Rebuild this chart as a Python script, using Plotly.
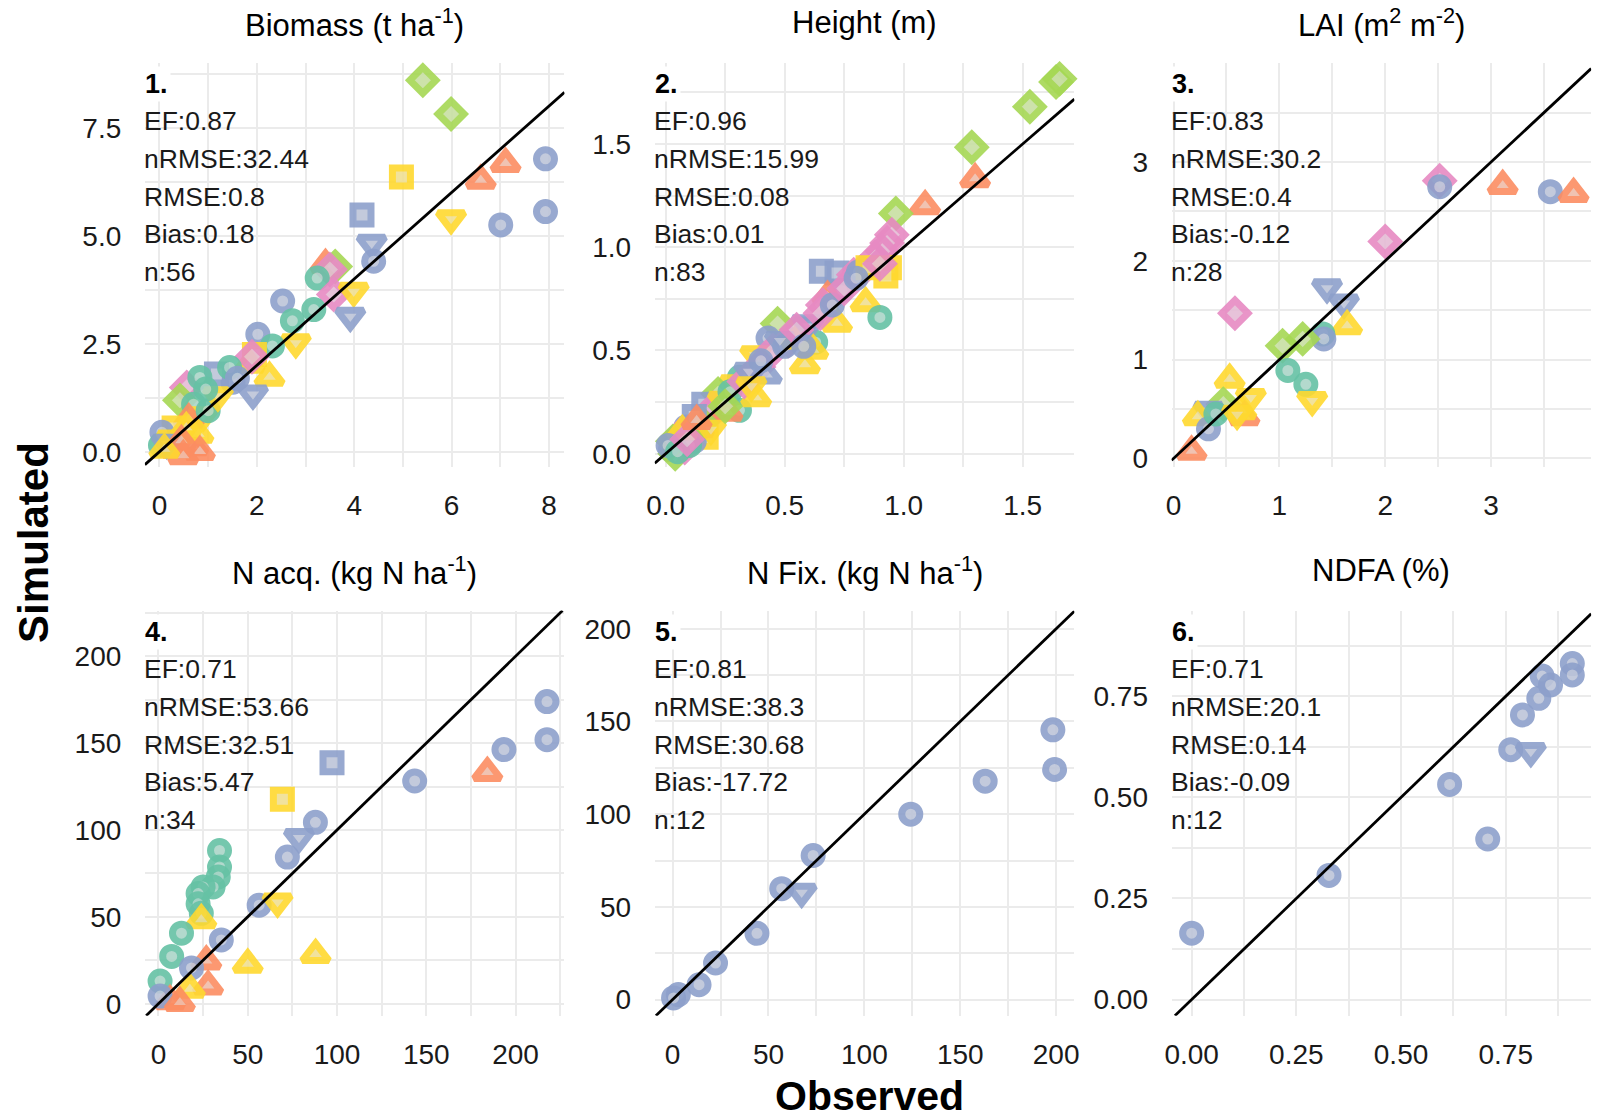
import plotly.graph_objects as go

W, H = 1615, 1118
FONT = "Liberation Sans"

# ---------------- colours / symbols ----------------
COLORS = {"T": "#66C2A5", "O": "#FC8D62", "B": "#8DA0CB",
          "P": "#E78AC3", "L": "#A6D854", "Y": "#FFD92F"}
SYMBOLS = {"o": "circle", "^": "triangle-up", "s": "square",
           "d": "diamond", "v": "triangle-down"}
SYMBOL_SIZE = {"o": 18, "^": 23, "s": 18, "d": 20, "v": 23}

# ---------------- panel titles & statistics ----------------
titles = ["Biomass (t ha<sup>-1</sup>)", "Height (m)", "LAI (m<sup>2</sup> m<sup>-2</sup>)",
          "N acq. (kg N ha<sup>-1</sup>)", "N Fix. (kg N ha<sup>-1</sup>)", "NDFA (%)"]
labels = ["1.", "2.", "3.", "4.", "5.", "6."]
stats = [
    ["EF:0.87", "nRMSE:32.44", "RMSE:0.8", "Bias:0.18", "n:56"],
    ["EF:0.96", "nRMSE:15.99", "RMSE:0.08", "Bias:0.01", "n:83"],
    ["EF:0.83", "nRMSE:30.2", "RMSE:0.4", "Bias:-0.12", "n:28"],
    ["EF:0.71", "nRMSE:53.66", "RMSE:32.51", "Bias:5.47", "n:34"],
    ["EF:0.81", "nRMSE:38.3", "RMSE:30.68", "Bias:-17.72", "n:12"],
    ["EF:0.71", "nRMSE:20.1", "RMSE:0.14", "Bias:-0.09", "n:12"],
]

# ---------------- data: observed, simulated, colour group, shape ----------------
biomass_obs = [5.41, 5.99, 4.97, 7.11, 6.60, 7.93, 7.93, 7.01, 5.99, 4.16,
               4.36, 4.40, 3.41, 3.61, 3.50, 3.24, 3.58, 3.99, 3.92, 2.53,
               3.17, 2.73, 2.80, 2.02, 2.32, 2.26, 1.95, 1.85, 1.90, 1.92,
               1.51, 1.17, 1.44, 0.56, 0.83, 0.42, 0.70, 0.90, 0.60, 0.30,
               0.05, 0.02, 0.69, 0.35, 0.80, 0.25, 0.55, 0.15, 0.45, 1.00,
               0.83, 0.49, 0.10, 1.20, 0.95, 1.60]
biomass_sim = [8.60, 7.82, 6.36, 6.67, 6.28, 6.78, 5.56, 5.25, 5.40, 5.48,
               4.83, 4.41, 4.33, 4.29, 4.22, 4.02, 3.64, 3.72, 3.14, 3.49,
               3.29, 3.03, 2.53, 2.72, 2.45, 1.72, 2.25, 2.02, 2.20, 1.34,
               1.61, 1.80, 1.95, 1.49, 1.72, 1.19, 1.10, 0.84, 0.75, 0.55,
               0.45, 0.15, 0.11, 0.05, 0.40, 0.30, 0.55, 0.20, 0.25, 0.95,
               0.00, -0.10, 0.05, 1.30, 1.45, 1.70]
biomass_grp = ("L L Y O O B B B Y B "
               "B B O L P T P Y B B "
               "T T Y B T Y Y Y P B "
               "B B T P T L T Y O Y "
               "B T O O Y Y Y B O T "
               "O O Y Y T B").split()
biomass_shp = ("d d s ^ ^ o o o v s "
               "v o ^ d d o d v v o "
               "o o v o o ^ s ^ d v "
               "o s o d o d o v ^ s "
               "o o ^ ^ ^ v ^ v ^ o "
               "^ ^ ^ v o o").split()

height_obs = [1.64, 1.655, 1.53, 1.286, 1.30, 1.09, 0.967, 0.95, 0.93, 0.91,
              0.88, 0.94, 0.925, 0.654, 0.72, 0.79, 0.82, 0.81, 0.74, 0.68,
              0.66, 0.84, 0.90, 0.59, 0.72, 0.47, 0.43, 0.63, 0.515, 0.585,
              0.376, 0.39, 0.425, 0.31, 0.29, 0.31, 0.38, 0.22, 0.16, 0.18,
              0.17, 0.085, 0.02, 0.04, 0.05, 0.08, 0.10, 0.12, 0.06, 0.14,
              0.20, 0.24, 0.26, 0.27, 0.33, 0.35, 0.45, 0.50, 0.55, 0.60,
              0.65, 0.70, 0.75, 0.85, 0.90, 0.03, 0.10, 0.15, 0.12, 0.07,
              0.19, 0.25, 0.40, 0.48, 0.55, 0.62, 0.58, 0.80, 0.01, 0.05,
              0.09, 0.13, 0.36]
height_sim = [1.80, 1.815, 1.68, 1.484, 1.33, 1.20, 1.163, 1.06, 1.02, 0.98,
              0.95, 0.90, 0.86, 0.883, 0.875, 0.867, 0.88, 0.88, 0.79, 0.76,
              0.72, 0.73, 0.66, 0.63, 0.63, 0.63, 0.56, 0.54, 0.547, 0.43,
              0.48, 0.42, 0.38, 0.37, 0.34, 0.21, 0.27, 0.29, 0.24, 0.18,
              0.08, 0.13, 0.02, 0.00, 0.05, 0.03, 0.10, 0.06, 0.09, 0.12,
              0.22, 0.26, 0.20, 0.30, 0.35, 0.40, 0.50, 0.52, 0.55, 0.62,
              0.68, 0.72, 0.80, 0.90, 0.92, 0.06, 0.04, 0.15, 0.18, 0.11,
              0.12, 0.23, 0.45, 0.55, 0.60, 0.50, 0.52, 0.85, 0.04, 0.01,
              0.07, 0.16, 0.33]
height_grp = ("L L L L O O L P P P "
              "P Y Y B B P P B B O "
              "P Y T B Y L B T P Y "
              "Y P B T Y T Y L B P "
              "Y B B L T P Y B P O "
              "P Y O T P B P B Y B "
              "P B P Y P L T L B Y "
              "Y L B B P Y B B B T "
              "P O Y").split()
height_shp = ("d d d d ^ ^ d d d d "
              "d s s s s d d o o ^ "
              "d ^ o v ^ d o o d ^ "
              "v d ^ o v o ^ d s d "
              "s o o d o d v o d ^ "
              "d v ^ o d v d o ^ v "
              "d o d s d d o d s ^ "
              "v d o v d ^ o o o o "
              "d ^ v").split()

lai_obs = [2.515, 2.515, 3.11, 3.56, 3.78, 2.00, 0.58, 1.45, 1.61, 1.64,
           1.41, 1.42, 1.22, 1.03, 1.08, 1.25, 1.31, 0.53, 0.73, 0.47,
           0.33, 0.23, 0.33, 0.67, 0.64, 0.17, 0.40, 0.60]
lai_sim = [2.81, 2.75, 2.76, 2.70, 2.68, 2.195, 1.47, 1.73, 1.575, 1.34,
           1.26, 1.21, 1.21, 1.14, 0.89, 0.75, 0.59, 0.80, 0.62, 0.55,
           0.49, 0.42, 0.30, 0.42, 0.48, 0.07, 0.45, 0.45]
lai_grp = ("P B O B O P P B B Y "
           "T B L L T T Y Y Y L "
           "B Y B O Y O T Y").split()
lai_shp = ("d o ^ o ^ d d v v ^ "
           "o o d d o o v ^ v d "
           "v ^ o ^ ^ ^ o v").split()

nacq_obs = [217.6, 217.6, 193.5, 184.2, 143.5, 97.2, 69.4, 87.9, 78.7, 72.2,
            34.2, 34.2, 33.5, 30.6, 25.0, 22.2, 22.2, 24.0, 24.0, 56.4,
            66.7, 12.9, 35.2, 7.4, 88.0, 50.0, 26.8, 27.8, 18.5, 0.9,
            17.6, 6.5, 0.9, 12.0]
nacq_sim = [173.9, 152.0, 146.3, 133.0, 128.2, 138.7, 117.7, 104.4, 95.8, 84.4,
            88.2, 78.7, 73.0, 67.2, 67.2, 63.4, 57.5, 52.0, 48.2, 56.7,
            58.7, 40.6, 36.7, 27.2, 28.2, 22.5, 24.4, 10.1, 20.6, 13.0,
            8.2, 1.5, 4.4, 0.5]
nacq_grp = ("B B B O B B Y B B B "
            "T T T T T T T T Y B "
            "Y T B T Y Y O O B T "
            "Y O B O").split()
nacq_shp = ("o o o ^ o s s o v o "
            "o o o o o o o o ^ o "
            "v o o o ^ ^ ^ ^ o o "
            "^ ^ o ^").split()

nfix_obs = [198.3, 199.2, 163.0, 124.2, 73.3, 56.9, 67.3, 44.0, 22.4, 13.8, 3.0, 0.5]
nfix_sim = [145.5, 124.1, 117.8, 100.0, 77.7, 59.8, 58.0, 35.7, 19.7, 8.0, 2.7, 0.9]
nfix_grp = "B B B B B B B B B B B B".split()
nfix_shp = "o o o o o o v o o o o o".split()

ndfa_obs = [0.000, 0.328, 0.616, 0.707, 0.762, 0.810, 0.790, 0.829, 0.837, 0.857, 0.909, 0.909]
ndfa_sim = [0.164, 0.307, 0.532, 0.397, 0.618, 0.614, 0.704, 0.745, 0.800, 0.778, 0.831, 0.803]
ndfa_grp = "B B B B B B B B B B B B".split()
ndfa_shp = "o o o o o v o o o o o o".split()

# ---------------- axes: ranges and ticks ----------------
x_ranges = [[-0.30, 8.32], [-0.046, 1.717], [-0.019, 3.946], [-7.6, 227.4], [-9.3, 209.5], [-0.048, 0.954]]
y_ranges = [[-0.345, 9.01], [-0.0625, 1.894], [-0.083, 4.007], [-6.9, 226.3], [-8.7, 209.8], [-0.040, 0.962]]
x_ticks = [[0, 2, 4, 6, 8], [0, 0.5, 1.0, 1.5], [0, 1, 2, 3], [0, 50, 100, 150, 200], [0, 50, 100, 150, 200], [0, 0.25, 0.5, 0.75]]
x_ticklabels = [["0", "2", "4", "6", "8"], ["0.0", "0.5", "1.0", "1.5"], ["0", "1", "2", "3"],
                ["0", "50", "100", "150", "200"], ["0", "50", "100", "150", "200"], ["0.00", "0.25", "0.50", "0.75"]]
y_ticks = [[0, 2.5, 5.0, 7.5], [0, 0.5, 1.0, 1.5], [0, 1, 2, 3], [0, 50, 100, 150, 200], [0, 50, 100, 150, 200], [0, 0.25, 0.5, 0.75]]
y_ticklabels = [["0.0", "2.5", "5.0", "7.5"], ["0.0", "0.5", "1.0", "1.5"], ["0", "1", "2", "3"],
                ["0", "50", "100", "150", "200"], ["0", "50", "100", "150", "200"], ["0.00", "0.25", "0.50", "0.75"]]
x_minor = [1, 0.25, 0.5, 25, 25, 0.125]
y_minor = [1.25, 0.25, 0.5, 25, 25, 0.125]

panels = [
    (biomass_obs, biomass_sim, biomass_grp, biomass_shp),
    (height_obs, height_sim, height_grp, height_shp),
    (lai_obs, lai_sim, lai_grp, lai_shp),
    (nacq_obs, nacq_sim, nacq_grp, nacq_shp),
    (nfix_obs, nfix_sim, nfix_grp, nfix_shp),
    (ndfa_obs, ndfa_sim, ndfa_grp, ndfa_shp),
]

# ---------------- layout geometry (pixels) ----------------
COL_L = [138, 652, 1173]
COL_R = [561, 1075, 1596]
ROW_T = [63, 615]
ROW_B = [470, 1023]


def px(x):
    return x / W


def py(y):
    return 1 - y / H


def fill_of(hexc, w=0.45, base=(228, 228, 228)):
    h = hexc.lstrip("#")
    r, g, b = int(h[0:2], 16), int(h[2:4], 16), int(h[4:6], 16)
    return "rgb(%d,%d,%d)" % (round(w * r + (1 - w) * base[0]),
                              round(w * g + (1 - w) * base[1]),
                              round(w * b + (1 - w) * base[2]))


fig = go.Figure()
annotations = []
shapes = []
GRID = "#EBEBEB"
TICKFONT = dict(family=FONT, size=28, color="#1a1a1a")

for i, (obs, sim, grp, shp) in enumerate(panels):
    assert len(obs) == len(sim) == len(grp) == len(shp), (i, len(obs), len(sim), len(grp), len(shp))
    r, c = divmod(i, 3)
    sfx = "" if i == 0 else str(i + 1)
    xa, ya = "x" + sfx, "y" + sfx
    fig.add_trace(go.Scatter(
        x=obs, y=sim, mode="markers", xaxis=xa, yaxis=ya, showlegend=False,
        cliponaxis=False,
        marker=dict(size=[SYMBOL_SIZE[s] for s in shp], symbol=[SYMBOLS[s] for s in shp],
                    color=[fill_of(COLORS[g]) for g in grp], opacity=0.9,
                    line=dict(width=7, color=[COLORS[g] for g in grp])),
    ))
    fig.layout["xaxis" + sfx] = dict(
        domain=[px(COL_L[c]), px(COL_R[c])], anchor=ya, range=x_ranges[i],
        tickmode="array", tickvals=x_ticks[i], ticktext=x_ticklabels[i],
        ticks="outside", ticklen=14, tickcolor="rgba(0,0,0,0)", tickfont=TICKFONT,
        showgrid=True, gridcolor=GRID, gridwidth=1.8, zeroline=False, showline=False,
        minor=dict(dtick=x_minor[i], tick0=0, showgrid=True, gridcolor=GRID, gridwidth=1.5),
    )
    fig.layout["yaxis" + sfx] = dict(
        domain=[py(ROW_B[r]), py(ROW_T[r])], anchor=xa, range=y_ranges[i],
        tickmode="array", tickvals=y_ticks[i], ticktext=y_ticklabels[i],
        ticks="outside", ticklen=17, tickcolor="rgba(0,0,0,0)", tickfont=TICKFONT,
        showgrid=True, gridcolor=GRID, gridwidth=1.8, zeroline=False, showline=False,
        minor=dict(dtick=y_minor[i], tick0=0, showgrid=True, gridcolor=GRID, gridwidth=1.5),
    )
    # 1:1 line across the panel
    lo = max(x_ranges[i][0], y_ranges[i][0])
    hi = min(x_ranges[i][1], y_ranges[i][1])
    shapes.append(dict(type="line", xref=xa, yref=ya, x0=lo, y0=lo, x1=hi, y1=hi,
                       line=dict(color="black", width=2.8), layer="above"))
    # panel title
    annotations.append(dict(text=titles[i], xref="paper", yref="paper",
                            x=px((COL_L[c] + COL_R[c]) / 2), y=py(ROW_T[r] - 40),
                            xanchor="center", yanchor="middle", showarrow=False,
                            font=dict(family=FONT, size=31, color="black")))
    # panel number
    annotations.append(dict(text="<b>%s</b>" % labels[i], xref="paper", yref="paper",
                            x=px(COL_L[c] - 3), y=py(ROW_T[r] + 22),
                            xanchor="left", yanchor="middle", showarrow=False,
                            bgcolor="white", borderpad=2,
                            font=dict(family=FONT, size=27, color="black")))
    for k, line in enumerate(stats[i]):
        annotations.append(dict(text=line, xref="paper", yref="paper",
                                x=px(COL_L[c] - 3), y=py(ROW_T[r] + 59 + 38 * k),
                                xanchor="left", yanchor="middle", showarrow=False,
                                font=dict(family=FONT, size=26.5, color="#1a1a1a")))

annotations.append(dict(text="<b>Simulated</b>", xref="paper", yref="paper",
                        x=px(25), y=py(546), textangle=-90, xanchor="center", yanchor="middle",
                        showarrow=False, font=dict(family=FONT, size=42, color="black")))
annotations.append(dict(text="<b>Observed</b>", xref="paper", yref="paper",
                        x=px(868), y=py(1104), xanchor="center", yanchor="middle",
                        showarrow=False, font=dict(family=FONT, size=41, color="black")))

fig.update_layout(width=W, height=H, margin=dict(l=0, r=0, t=0, b=0),
                  paper_bgcolor="white", plot_bgcolor="white",
                  annotations=annotations, shapes=shapes,
                  font=dict(family=FONT))

fig.write_html("out.html")
